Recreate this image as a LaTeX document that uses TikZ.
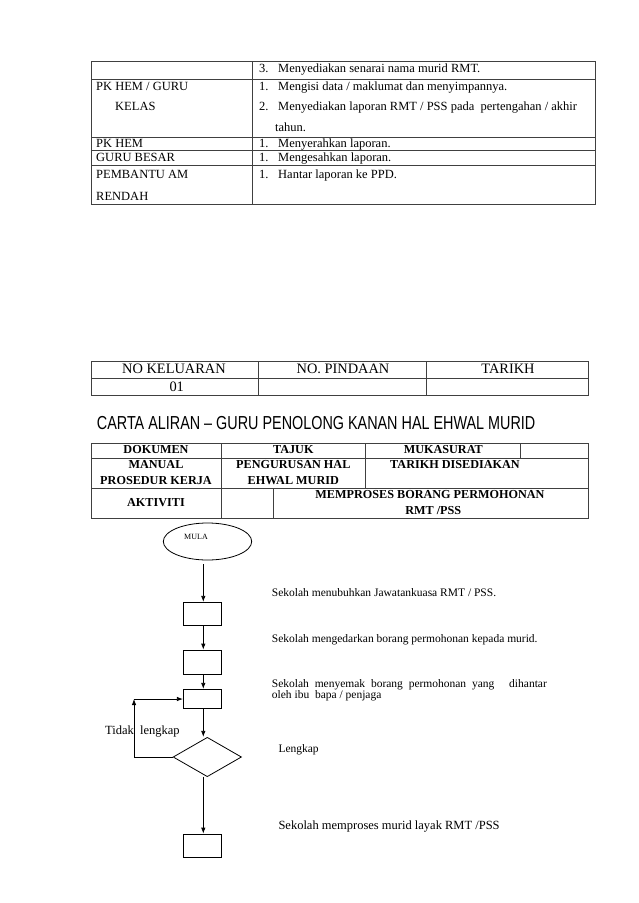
\documentclass[tikz,border=0pt]{standalone}
\usepackage{fontspec}
\setmainfont{Liberation Serif}
\newfontfamily\arialfont{Liberation Sans}
\usetikzlibrary{arrows.meta,shapes.geometric}
\begin{document}
\begin{tikzpicture}[x=1pt,y=-1pt,
  tbl/.style={draw=black!75,line width=0.8pt},
  cell/.style={inner sep=0pt,text height=8.8pt,text depth=2.7pt,font=\fontsize{12.5}{14}\selectfont},
  lcell/.style={cell,anchor=west},
  hdr/.style={inner sep=0pt,text height=10pt,text depth=3pt,font=\fontsize{14.4}{16}\selectfont},
  bcell/.style={inner sep=0pt,text height=8.6pt,text depth=2.6pt,font=\bfseries\fontsize{12.2}{14}\selectfont},
  fbox/.style={draw,line width=0.8pt,minimum width=38.4pt,inner sep=0pt},
  arr/.style={line width=0.8pt,-{Latex[length=6pt,width=4.5pt]}},
  ftxt/.style={inner sep=0pt,anchor=west,text height=8pt,text depth=2.5pt,font=\fontsize{11.5}{13}\selectfont}]
\useasboundingbox (0,0) rectangle (638,903);
\fill[white] (0,0) rectangle (638,903);

% ---------- top table ----------
\draw[tbl] (91,61) rectangle (595.7,204);
\foreach \yy in {79,137.5,150.5,165} \draw[tbl] (91,\yy) -- (595.7,\yy);
\draw[tbl] (252.3,61) -- (252.3,204);

\node[lcell] (n3) at (259,69) {3.};
\node[lcell] (t3) at (278,69) {Menyediakan senarai nama murid RMT.};
\node[lcell] (pk) at (96,87) {PK HEM / GURU};
\node[lcell] (n1a) at (259,87) {1.};
\node[lcell] (t1a) at (278,87) {Mengisi data / maklumat dan menyimpannya.};
\node[lcell] (kel) at (115,107) {KELAS};
\node[lcell] (n2a) at (259,107) {2.};
\node[lcell] (t2a) at (278,107) {Menyediakan laporan RMT / PSS pada\ \ pertengahan / akhir};
\node[lcell] (tah) at (275,128) {tahun.};
\node[lcell] (pkh) at (96,144.3) {PK HEM};
\node[lcell] (n1b) at (259,144.3) {1.};
\node[lcell] (t1b) at (278,144.3) {Menyerahkan laporan.};
\node[lcell] (gb) at (96,158) {GURU BESAR};
\node[lcell] (n1c) at (259,158) {1.};
\node[lcell] (t1c) at (278,158) {Mengesahkan laporan.};
\node[lcell] (pam) at (96,175) {PEMBANTU AM};
\node[lcell] (n1d) at (259,175) {1.};
\node[lcell] (t1d) at (278,175) {Hantar laporan ke PPD.};
\node[lcell] (ren) at (96,197) {RENDAH};

% ---------- second table ----------
\draw[tbl] (91,361) rectangle (588.5,395);
\draw[tbl] (91,378) -- (588.5,378);
\draw[tbl] (258.3,361) -- (258.3,395);
\draw[tbl] (426.7,361) -- (426.7,395);
\node[hdr] (nk) at (174,370) {NO KELUARAN};
\node[hdr] (z1) at (176.7,387.5) {01};
\node[hdr] (np) at (343,370) {NO. PINDAAN};
\node[hdr] (tk) at (508,370) {TARIKH};

% ---------- title ----------
\node[inner sep=0pt,anchor=west] (title) at (96.7,423.3)
  {\scalebox{0.765}[1]{\arialfont\fontsize{18.8}{20}\selectfont CARTA ALIRAN – GURU PENOLONG KANAN HAL EHWAL MURID}};

% ---------- third table ----------
\draw[tbl] (91,443.3) rectangle (588.5,518.3);
\draw[tbl] (91,458) -- (588.5,458);
\draw[tbl] (91,488.3) -- (588.5,488.3);
\draw[tbl] (221.7,443.3) -- (221.7,518.3);
\draw[tbl] (365,443.3) -- (365,488.3);
\draw[tbl] (520.7,443.3) -- (520.7,458);
\draw[tbl] (273.3,488.3) -- (273.3,518.3);
\node[bcell] (dok) at (156,450.7) {DOKUMEN};
\node[bcell] (taj) at (293.3,450.7) {TAJUK};
\node[bcell] (muk) at (443.3,450.7) {MUKASURAT};
\node[bcell] (man) at (156,465.5) {MANUAL};
\node[bcell] (pro) at (156,481.5) {PROSEDUR KERJA};
\node[bcell] (pen) at (293.3,465.5) {PENGURUSAN HAL};
\node[bcell] (ehw) at (293.3,481.5) {EHWAL MURID};
\node[bcell] (tds) at (455,465.5) {TARIKH DISEDIAKAN};
\node[bcell] (akt) at (156,503.3) {AKTIVITI};
\node[bcell] (mem) at (430,495.5) {MEMPROSES BORANG PERMOHONAN};
\node[bcell] (rmt) at (433.3,511.3) {RMT /PSS};

% ---------- flowchart ----------
\node[draw,ellipse,line width=0.8pt,minimum width=88.4pt,minimum height=37pt,inner sep=0pt] (mula) at (207.5,541.5) {};
\node[inner sep=0pt,font=\fontsize{8}{9}\selectfont] (mulat) at (196,537.3) {MULA};
\node[fbox,minimum height=23.4pt] (b1) at (202.5,614) {};
\node[fbox,minimum height=24.3pt] (b2) at (202.5,662.2) {};
\node[fbox,minimum height=19pt] (b3) at (202.5,698.8) {};
\node[draw,diamond,line width=0.8pt,minimum width=68.4pt,minimum height=39.4pt,inner sep=0pt] (dia) at (207.3,757) {};
\node[fbox,minimum height=23.3pt] (b4) at (202.5,845.7) {};

\coordinate (s0) at (203.3,564);
\coordinate (s4) at (203.3,776.7);
\coordinate (lp) at (134,699);
\draw[arr] (s0) -- (s0 |- b1.north);
\draw[arr] (b1.south -| s0) -- (b2.north -| s0);
\draw[arr] (b2.south -| s0) -- (b3.north -| s0);
\draw[arr] (b3.south -| s0) -- (dia.north -| s0);
\draw[arr] (dia.west) -| (lp);
\draw[arr] (lp) -- (lp -| b3.west);
\draw[arr] (s4) -- (s4 |- b4.north);

\node[ftxt] (f1) at (271.7,594) {Sekolah menubuhkan Jawatankuasa RMT / PSS.};
\node[ftxt] (f2) at (271.7,639.3) {Sekolah mengedarkan borang permohonan kepada murid.};
\node[ftxt] (f3) at (271.7,684.3) {\makebox[275pt][l]{Sekolah\hspace{5.8pt}menyemak\hspace{5.8pt}borang\hspace{5.8pt}permohonan\hspace{5.8pt}yang\hfill dihantar}};
\node[ftxt] (f3b) at (271.7,696) {oleh ibu\ \ bapa / penjaga};
\node[ftxt] (lgk) at (278.3,750) {Lengkap};
\node[ftxt,text height=8.8pt,text depth=2.7pt,font=\fontsize{12.5}{14}\selectfont] (f4) at (278.3,826.7) {Sekolah memproses murid layak RMT /PSS};
\node[inner sep=0pt,anchor=west,text height=8.8pt,text depth=2.7pt,font=\fontsize{12.5}{14}\selectfont] (tdk) at (105,731.7) {Tidak\ \ lengkap};
\end{tikzpicture}
\end{document}
